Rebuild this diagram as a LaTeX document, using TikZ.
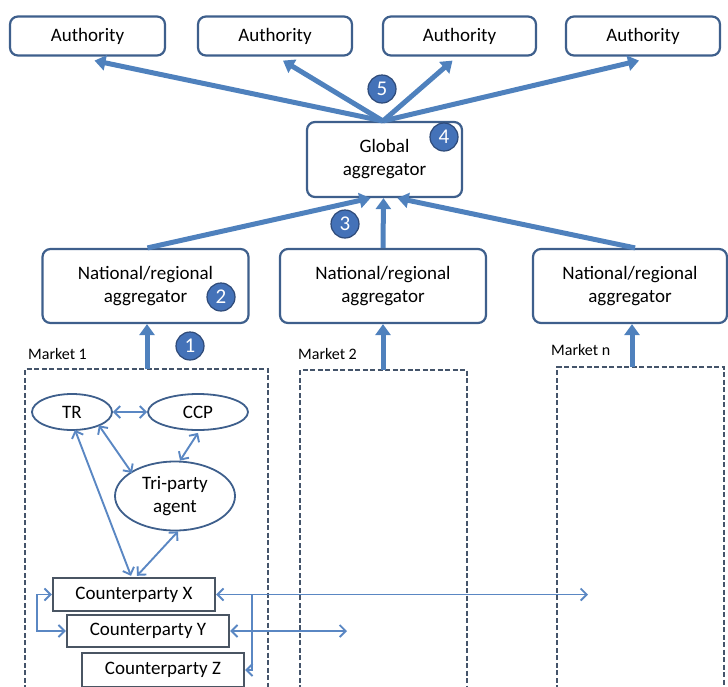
\documentclass[tikz,border=0pt]{standalone}
\usepackage{fontspec}
\setmainfont{Carlito}
\usetikzlibrary{arrows.meta,shapes.geometric,calc}
\definecolor{thickblue}{HTML}{4F81BD}
\definecolor{thinblue}{HTML}{5A87C3}
\definecolor{boxline}{HTML}{3E5F8C}
\definecolor{cpline}{HTML}{4A5563}
\definecolor{dashline}{HTML}{44546A}
\definecolor{circfill}{HTML}{4472B8}
\definecolor{circline}{HTML}{2E4A78}
\tikzset{
  rbox/.style={draw=boxline, line width=2.2pt, rounded corners=8pt, fill=white,
    align=center, font=\fontsize{19}{23}\selectfont, inner sep=0pt},
  cpbox/.style={draw=cpline, line width=2.4pt, fill=white, minimum width=162pt,
    minimum height=33pt, font=\fontsize{19}{23}\selectfont, inner sep=0pt},
  ell/.style={draw=boxline, line width=1.8pt, ellipse, inner sep=0pt,
    align=center, font=\fontsize{19}{23}\selectfont},
  numc/.style={circle, draw=circline, line width=1.2pt, fill=circfill,
    minimum size=28pt, inner sep=0pt, text=white, font=\fontsize{21}{21}\selectfont},
  bigarrow/.style={draw=thickblue, line width=5pt,
    -{Triangle[length=11pt,width=15pt]}},
  thinarrow/.style={draw=thinblue, line width=1.9pt,
    {Straight Barb[length=6pt,width=12pt]}-{Straight Barb[length=6pt,width=12pt]}},
  thinone/.style={draw=thinblue, line width=1.9pt,
    -{Straight Barb[length=6pt,width=12pt]}},
  market/.style={draw=dashline, line width=2.3pt, dash pattern=on 5pt off 2.5pt},
  mlabel/.style={font=\fontsize{16}{16}\selectfont, inner sep=0pt}
}
\begin{document}
\begin{tikzpicture}[x=1pt,y=-1pt]
\useasboundingbox (0,0) rectangle (728,686);

% Authorities
\node[rbox, minimum width=155pt, minimum height=39pt] (a1) at (87.5,36) {Authority};
\node[rbox, minimum width=154pt, minimum height=39pt] (a2) at (275,36) {Authority};
\node[rbox, minimum width=153pt, minimum height=39pt] (a3) at (459.5,36) {Authority};
\node[rbox, minimum width=154pt, minimum height=39pt] (a4) at (643,36) {Authority};

% Global aggregator
\node[rbox, minimum width=155pt, minimum height=75pt] (g) at (384.5,159.5) {Global\\aggregator};

% National aggregators
\node[rbox, minimum width=206pt, minimum height=74pt] (n1) at (145.5,286) {National/regional\\aggregator};
\node[rbox, minimum width=206pt, minimum height=74pt] (n2) at (383,286) {National/regional\\aggregator};
\node[rbox, minimum width=194pt, minimum height=74pt] (n3) at (630,286) {National/regional\\aggregator};

% Market dashed boxes
\draw[market] (25,690) -- (25,369) -- (268,369) -- (268,690);
\draw[market] (300,690) -- (300,370) -- (467,370) -- (467,690);
\draw[market] (557,690) -- (557,367) -- (724,367) -- (724,690);
\coordinate (m1) at (147,369);
\coordinate (m2) at (383,370);
\coordinate (m3) at (632,367);
\node[mlabel, anchor=west] (ml1) at (28,354) {Market 1};
\node[mlabel, anchor=west] (ml2) at (298,354) {Market 2};
\node[mlabel, anchor=west] (ml3) at (551,350) {Market n};

% Thick arrows: global -> authorities
\coordinate (gt) at (383,121);
\draw[bigarrow] (gt) -- ($(a1.south)+(7,4)$);
\draw[bigarrow] (gt) -- ($(a2.south)+(8,4)$);
\draw[bigarrow] (gt) -- ($(a3.south)+(-7,4)$);
\draw[bigarrow] (gt) -- ($(a4.south)+(-4,4)$);

% National -> global
\draw[bigarrow] ($(n1.north)+(2,0)$) -- ($(g.south)+(-14,0)$);
\draw[bigarrow] (n2.north) -- ($(g.south)+(-1,0)$);
\draw[bigarrow] ($(n3.north)+(5,0)$) -- ($(g.south)+(13,0)$);

% Market -> national
\draw[bigarrow] (m1) -- (m1 |- n1.south);
\draw[bigarrow] (m2) -- (m2 |- n2.south);
\draw[bigarrow] (m3) -- (m3 |- n3.south);

% Number circles
\node[numc] (c5) at (382,89) {5};
\node[numc] (c4) at (444,137) {4};
\node[numc] (c3) at (345,224) {3};
\node[numc] (c2) at (221,297) {2};
\node[numc] (c1) at (190,346) {1};

% Market 1 contents
\node[ell, minimum width=80pt, minimum height=36pt] (tr) at (72,412) {TR};
\node[ell, minimum width=100pt, minimum height=36pt] (ccp) at (198,412) {CCP};
\node[ell, minimum width=120pt, minimum height=69pt] (tri) at (175,496) {Tri-party\\agent};

\node[cpbox] (cx) at (134,594.5) {Counterparty X};
\node[cpbox, minimum height=32pt] (cy) at (148,631) {Counterparty Y};
\node[cpbox, minimum height=34pt] (cz) at (163,670) {Counterparty Z};

\draw[thinarrow] (tr.east) -- (ccp.west);
\draw[thinarrow] ($(tr.south east)+(-2,0)$) -- ($(tri.north west)+(0,2)$);
\draw[thinarrow] ($(ccp.south)+(0,2)$) -- ($(tri.north)+(5,0)$);
\draw[thinarrow] ($(tr.south)+(3,-1)$) -- ($(cx.north)+(-3,-1)$);
\draw[thinarrow] ($(tri.south)+(3,0)$) -- ($(cx.north)+(3,-1)$);

\coordinate (bl1) at (37,594.5);
\coordinate (bl2) at (37,631);
\draw[thinarrow] (cx.west) -- (bl1) -- (bl2) -- (cy.west);

\coordinate (xr) at (588,594.5);
\draw[thinarrow] (cx.east) -- (xr);
\coordinate (yr) at (347,631);
\draw[thinarrow] (cy.east) -- (yr);

\coordinate (vt) at (252,594.5);
\coordinate (vb) at (252,670);
\draw[thinone] (vt) -- (vb) -- (cz.east);
\end{tikzpicture}
\end{document}
